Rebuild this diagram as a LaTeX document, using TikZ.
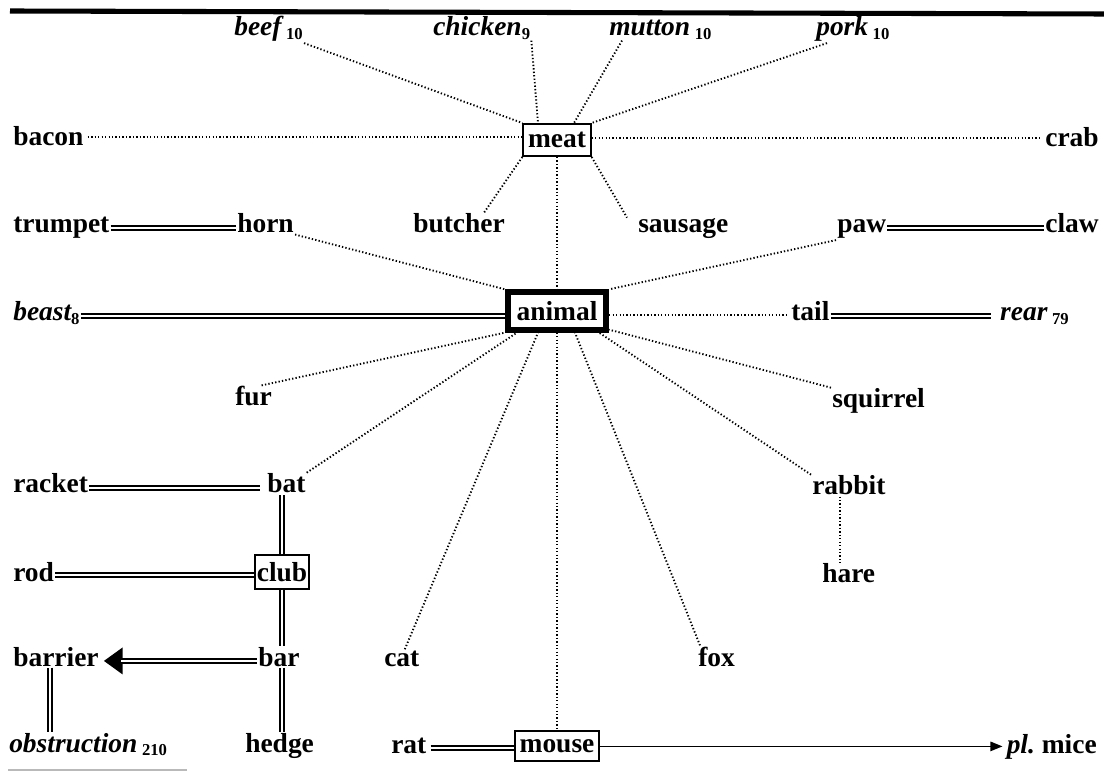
\documentclass[tikz,border=0pt]{standalone}
\usepackage{fontspec}
\setmainfont{Liberation Serif}
\usetikzlibrary{arrows.meta,calc}
\newcommand{\idx}[1]{\raisebox{-0.25ex}{\fontsize{12.5}{12.5}\selectfont #1}}

\begin{document}
\begin{tikzpicture}[x=0.75pt,y=0.75pt,yscale=-1,xscale=1,
  word/.style={inner sep=0.75pt, font=\fontsize{20.6}{24}\selectfont\bfseries},
  wordbox/.style={word, draw, line width=1.5pt, minimum height=24pt, inner xsep=3.5pt},
  headbox/.style={word, draw, line width=4.5pt, minimum height=28pt, inner xsep=6.5pt},
  link/.style={line width=1.4pt, dash pattern=on 1pt off 1.6pt},
  syn/.style={double, double distance=1.3pt, line width=1.8pt},
  plural/.style={line width=1.2pt, -{Triangle[length=9pt,width=7pt]}}]
\useasboundingbox (0,0) rectangle (1104,773);

% Rules
\draw [line width=3.8pt] (10,11) -- (1104,14) ;
\draw [color=gray!55, line width=1.5pt] (8,770) -- (187,770) ;

% Text Node
\node (beef) [word, anchor=base west] at (233,36) {\itshape beef\,\upshape\idx{10}};
% Text Node
\node (chicken) [word, anchor=base west] at (432,36) {\itshape chicken\upshape\idx{9}};
% Text Node
\node (mutton) [word, anchor=base west] at (608,36) {\itshape mutton\,\upshape\idx{10}};
% Text Node
\node (pork) [word, anchor=base west] at (815,36) {\itshape pork\,\upshape\idx{10}};
% Text Node
\node (meat) [wordbox] at (557,140) {meat};
% Text Node
\node (bacon) [word, anchor=base west] at (12,146) {bacon};
% Text Node
\node (crab) [word, anchor=base east] at (1100,147) {crab};
% Text Node
\node (trumpet) [word, anchor=base west] at (12,233) {trumpet};
% Text Node
\node (horn) [word, anchor=base west] at (236,233) {horn};
% Text Node
\node (butcher) [word, anchor=base west] at (412,233) {butcher};
% Text Node
\node (sausage) [word, anchor=base west] at (637,233) {sausage};
% Text Node
\node (paw) [word, anchor=base west] at (836,233) {paw};
% Text Node
\node (claw) [word, anchor=base east] at (1100,233) {claw};
% Text Node
\node (beast) [word, anchor=base west] at (12,321) {\itshape beast\upshape\idx{8}};
% Text Node
\node (animal) [headbox] at (557,311) {animal};
% Text Node
\node (tail) [word, anchor=base west] at (790,321) {tail};
% Text Node
\node (rear) [word, anchor=base east] at (1070,321) {\itshape rear\,\upshape\idx{79}};
% Text Node
\node (fur) [word, anchor=base west] at (234,406) {fur};
% Text Node
\node (squirrel) [word, anchor=base west] at (831,408) {squirrel};
% Text Node
\node (racket) [word, anchor=base west] at (12,493) {racket};
% Text Node
\node (bat) [word, anchor=base west] at (266,493) {bat};
% Text Node
\node (rabbit) [word, anchor=base west] at (811,495) {rabbit};
% Text Node
\node (rod) [word, anchor=base west] at (12,581) {rod};
% Text Node
\node (club) [wordbox, inner xsep=1pt, minimum height=25pt] at (282,572) {club};
% Text Node
\node (hare) [word, anchor=base west] at (821,583) {hare};
% Text Node
\node (barrier) [word, anchor=base west] at (12,666) {barrier};
% Text Node
\node (bar) [word, anchor=base west] at (257,666) {bar};
% Text Node
\node (cat) [word, anchor=base west] at (383,666) {cat};
% Text Node
\node (fox) [word, anchor=base west] at (697,666) {fox};
% Text Node
\node (obstruction) [word, anchor=base west] at (8,752) {\itshape obstruction\,\upshape\idx{210}};
% Text Node
\node (hedge) [word, anchor=base west] at (244,752) {hedge};
% Text Node
\node (rat) [word, anchor=base west] at (390,753) {rat};
% Text Node
\node (mouse) [wordbox, inner xsep=3.5pt, minimum height=23pt] at (557,746) {mouse};
% Text Node
\node (mice) [word, anchor=base east] at (1098,753) {\itshape pl.\upshape\ mice};

% Connection
\draw [link] (beef.south east) -- (meat.north west) ;
% Connection
\draw [link] (chicken.south east) -- ($(meat.north)+(-19,0)$) ;
% Connection
\draw [link] ($(mutton.south west)+(14,0)$) -- ($(meat.north)+(17,0)$) ;
% Connection
\draw [link] ($(pork.south west)+(12,0)$) -- (meat.north east) ;
% Connection
\coordinate (baconend) at ($(bacon.east)+(3,0)$) ;
\draw [link] (baconend) -- (baconend -| meat.west) ;
% Connection
\coordinate (crabend) at ($(crab.west)+(-3,0)$) ;
\draw [link] (crabend -| meat.east) -- (crabend) ;
% Connection
\draw [link] (meat.south west) -- ($(butcher.north)+(25,0)$) ;
% Connection
\draw [link] (meat.south east) -- ($(sausage.north west)+(-10,0)$) ;
% Connection
\draw [link] (meat.south) -- (animal.north) ;
% Connection
\draw [link] (horn.south east) -- (animal.north west) ;
% Connection
\draw [link] (paw.south west) -- (animal.north east) ;
% Connection
\coordinate (tailend) at ($(tail.mid west)+(-4,-3)$) ;
\draw [link] (tailend -| animal.east) -- (tailend) ;
% Connection
\draw [link] ($(fur.north)+(8,0)$) -- (animal.south west) ;
% Connection
\draw [link] (bat.north east) -- ($(animal.south west)+(12,0)$) ;
% Connection
\draw [link] ($(cat.north)+(3,0)$) -- ($(animal.south)+(-19,0)$) ;
% Connection
\draw [link] ($(fox.north west)+(3,0)$) -- ($(animal.south)+(18,0)$) ;
% Connection
\draw [link] (rabbit.north west) -- ($(animal.south east)+(-10,0)$) ;
% Connection
\draw [link] (squirrel.north west) -- ($(animal.south east)+(0,-3)$) ;
% Connection
\draw [link] (animal.south) -- (mouse.north) ;
% Connection
\coordinate (rabbitfoot) at ($(rabbit.south)+(-9,0)$) ;
\draw [link] (rabbitfoot) -- (rabbitfoot |- hare.north) ;

% Connection
\coordinate (trumpetend) at ($(trumpet.mid east)+(0,-2)$) ;
\draw [syn] (trumpetend) -- (trumpetend -| horn.west) ;
% Connection
\coordinate (pawend) at ($(paw.mid east)+(0,-2)$) ;
\draw [syn] (pawend) -- (pawend -| claw.west) ;
% Connection
\coordinate (beastend) at ($(beast.mid east)+(0,-2)$) ;
\draw [syn] (beastend) -- (beastend -| animal.west) ;
% Connection
\coordinate (tailsyn) at ($(tail.mid east)+(0,-2)$) ;
\draw [syn] (tailsyn) -- ($(tailsyn -| rear.west)+(-8,0)$) ;
% Connection
\coordinate (racketend) at ($(racket.mid east)+(0,-2)$) ;
\draw [syn] (racketend) -- ($(racketend -| bat.west)+(-6,0)$) ;
% Connection
\coordinate (rodend) at ($(rod.mid east)+(0,-3)$) ;
\draw [syn] (rodend) -- (rodend -| club.west) ;
% Connection
\draw [syn] (club.north) -- (club.north |- bat.south) ;
% Connection
\draw [syn] (club.south) -- (club.south |- bar.north) ;
% Connection
\draw [syn] (club.south |- bar.south) -- (club.south |- hedge.north) ;
% Connection
\coordinate (barend) at ($(bar.mid west)+(0,-2)$) ;
\draw [-{Triangle[length=14pt,width=20pt]}, line width=1pt] (barend) -- ($(barend -| barrier.east)+(4,0)$) ;
% Connection
\draw [syn, shorten >=13pt] (barend) -- ($(barend -| barrier.east)+(4,0)$) ;
% Connection
\coordinate (barrierfoot) at ($(barrier.south west)+(38,0)$) ;
\draw [syn] (barrierfoot) -- (barrierfoot |- obstruction.north) ;
% Connection
\coordinate (ratend) at ($(rat.mid east)+(3,-2)$) ;
\draw [syn] (ratend) -- (ratend -| mouse.west) ;
% Connection
\coordinate (miceend) at ($(mice.west)+(-3,0)$) ;
\draw [plural] (miceend -| mouse.east) -- (miceend) ;

\end{tikzpicture}
\end{document}
